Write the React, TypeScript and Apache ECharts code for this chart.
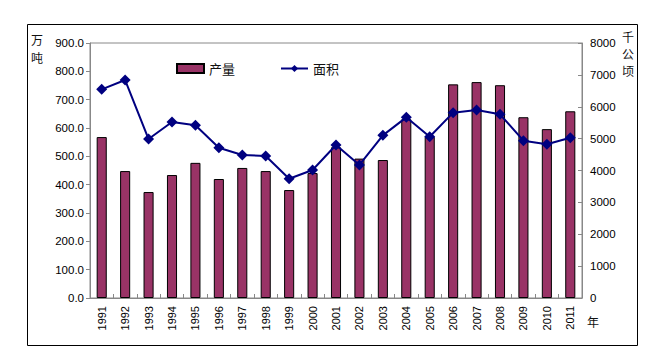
import React, { useEffect, useRef } from "react";
import * as echarts from "echarts";

const years = ["1991","1992","1993","1994","1995","1996","1997","1998","1999","2000","2001","2002","2003","2004","2005","2006","2007","2008","2009","2010","2011"];
const output = [568, 448, 374, 434, 477, 420, 459, 448, 381, 441, 532, 492, 487, 631, 569, 754, 762, 751, 638, 596, 659];
const area = [6547, 6839, 4988, 5522, 5417, 4716, 4486, 4455, 3743, 4016, 4800, 4173, 5103, 5668, 5061, 5815, 5898, 5762, 4936, 4821, 5030];
const leftTicks = [0, 100, 200, 300, 400, 500, 600, 700, 800, 900];
const rightTicks = [0, 1000, 2000, 3000, 4000, 5000, 6000, 7000, 8000];

const FONT = "'Liberation Sans', Arial, sans-serif";
const CJK = "'Noto Sans CJK SC', sans-serif";

export default function App() {
  const ref = useRef<HTMLDivElement>(null);
  useEffect(() => {
    if (!ref.current) return;
    const chart = echarts.init(ref.current, null, { renderer: "svg" });
    chart.setOption({
      animation: false,
      backgroundColor: "#fff",
      grid: { left: 90, right: 81, top: 43, bottom: 59, show: true, borderColor: "#888", borderWidth: 1 },
      legend: {
        left: 171, top: 57, itemGap: 45, itemWidth: 27, itemHeight: 9,
        textStyle: { fontSize: 13, fontFamily: CJK, color: "#111" },
        data: [
          { name: "产量", icon: "rect" },
          { name: "面积" },
        ],
      },
      xAxis: {
        type: "category",
        data: years,
        axisLine: { lineStyle: { color: "#888" } },
        axisTick: { show: true, inside: true, length: 4, lineStyle: { color: "#888" } },
        axisLabel: { rotate: 90, fontSize: 11, fontFamily: FONT, color: "#000", margin: 8 },
      },
      yAxis: [
        {
          type: "value", min: leftTicks[0], max: leftTicks[leftTicks.length - 1], interval: 100,
          splitLine: { show: false },
          axisLine: { show: true, lineStyle: { color: "#888" } },
          axisTick: { show: true, length: 4, lineStyle: { color: "#888" } },
          axisLabel: { fontSize: 11.5, fontFamily: FONT, color: "#000", margin: 6, formatter: (v: number) => v.toFixed(1) },
        },
        {
          type: "value", min: rightTicks[0], max: rightTicks[rightTicks.length - 1], interval: 1000,
          splitLine: { show: false },
          axisLine: { show: true, lineStyle: { color: "#888" } },
          axisTick: { show: true, inside: true, length: 4, lineStyle: { color: "#888" } },
          axisLabel: { fontSize: 11.5, fontFamily: FONT, color: "#000", margin: 8, formatter: (v: number) => String(v) },
        },
      ],
      series: [
        {
          name: "产量", type: "bar", data: output, yAxisIndex: 0, barWidth: "43%",
          itemStyle: { color: "#993366", borderColor: "#000", borderWidth: 1 },
        },
        {
          name: "面积", type: "line", data: area, yAxisIndex: 1,
          symbol: "diamond", symbolSize: 11,
          lineStyle: { color: "#000080", width: 2 },
          itemStyle: { color: "#000080" },
        },
      ],
      graphic: [
        { type: "rect", shape: { x: 27.5, y: 24.5, width: 610, height: 321 }, style: { fill: "none", stroke: "#000", lineWidth: 1 }, silent: true },
        { type: "text", x: 31, y: 30, style: { text: "万\n吨", fontSize: 12, lineHeight: 18, fontFamily: CJK, fill: "#111" } },
        { type: "text", x: 622, y: 28, style: { text: "千\n公\n顷", fontSize: 12, lineHeight: 17, fontFamily: CJK, fill: "#111" } },
        { type: "text", x: 587, y: 315, style: { text: "年", fontSize: 12, fontFamily: CJK, fill: "#111" } },
      ],
    });
    return () => chart.dispose();
  }, []);
  return <div ref={ref} style={{ width: 663, height: 357, position: "absolute", left: 0, top: 0 }} />;
}
